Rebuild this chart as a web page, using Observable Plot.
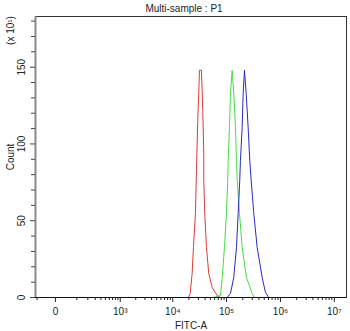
<!DOCTYPE html>
<html><head><meta charset="utf-8">
<script src="https://cdn.jsdelivr.net/npm/d3@7"></script>
<script src="https://cdn.jsdelivr.net/npm/@observablehq/plot@0.6"></script>
<style>body{margin:0;background:#fff}</style>
</head><body><div id="chart"></div>
<script>
const title = "Multi-sample : P1";
const xTitle = "FITC-A";
const yTitle = "Count";
const yUnit = "(x 10\u00B9)";

const xDomain = [-90, 1.68e7];
const yDomain = [0, 183];

const xMajor = [0, 1e3, 1e4, 1e5, 1e6, 1e7];
const xLabels = ["0", "10\u00B3", "10\u2074", "10\u2075", "10\u2076", "10\u2077"];
const xMinor = [-80, 100, 200, 300, 400, 500, 600, 700, 800, 900,
  2e3, 3e3, 4e3, 5e3, 6e3, 7e3, 8e3, 9e3,
  2e4, 3e4, 4e4, 5e4, 6e4, 7e4, 8e4, 9e4,
  2e5, 3e5, 4e5, 5e5, 6e5, 7e5, 8e5, 9e5,
  2e6, 3e6, 4e6, 5e6, 6e6, 7e6, 8e6, 9e6];
const yMajor = [0, 50, 100, 150];
const yMinor = [10, 20, 30, 40, 60, 70, 80, 90, 110, 120, 130, 140, 160, 170, 180];

const redX = [19600, 21070, 22950, 24260, 26430, 27580, 29180, 30460, 31390, 34180, 36160, 37730, 37730, 39380, 42360, 46740, 54040, 66930, 77050];
const redY = [0, 2.6, 15.6, 32.6, 54.8, 82.8, 115.4, 133, 148, 148, 121.9, 93.9, 76.3, 54.8, 32.6, 15.6, 6.5, 1.3, 0];

const greenX = [57090, 77050, 82880, 91450, 99630, 105300, 107100, 113200, 118200, 127000, 136100, 146300, 152700, 157400, 173700, 194900, 234200, 298600, 329600];
const greenY = [0, 1.3, 12.4, 32.6, 54.8, 76.3, 89.3, 110.8, 133, 148, 133, 110.8, 89.3, 76.3, 54.8, 32.6, 13, 2.6, 0];

const blueX = [102600, 118200, 136100, 152700, 164300, 175800, 181100, 194900, 203500, 215000, 231200, 251700, 269800, 286400, 319900, 369800, 458200, 527200, 606800];
const blueY = [0, 2.6, 13, 32.6, 54.8, 76.3, 89.3, 110.8, 133, 148, 133, 110.8, 89.3, 76.3, 54.8, 32.6, 13, 3.3, 0];

const seriesColors = {red: "#dd3b3b", green: "#46dc46", blue: "#2a2ac4"};

function rows(xs, ys) { return xs.map((x, i) => ({x, y: ys[i]})); }

const mid = {textAnchor: "middle", lineAnchor: "middle", fill: "#222"};

const chart = Plot.plot({
  width: 350, height: 331,
  marginTop: 16, marginRight: 4, marginBottom: 34, marginLeft: 35,
  style: {fontFamily: "'Liberation Sans', Arial, sans-serif", fontSize: "10px", color: "#222", background: "#fff"},
  x: {type: "symlog", constant: 67, domain: xDomain},
  y: {domain: yDomain},
  marks: [
    Plot.frame({stroke: "#333"}),
    Plot.line(rows(redX, redY), {x: "x", y: "y", stroke: seriesColors.red, strokeWidth: 1}),
    Plot.line(rows(greenX, greenY), {x: "x", y: "y", stroke: seriesColors.green, strokeWidth: 1}),
    Plot.line(rows(blueX, blueY), {x: "x", y: "y", stroke: seriesColors.blue, strokeWidth: 1}),
    Plot.ruleX(xDomain.slice(0, 1), {stroke: "#8a8a8a", strokeWidth: 2}),
    Plot.ruleY(yDomain.slice(0, 1), {stroke: "#111", strokeWidth: 1}),
    Plot.axisX({ticks: xMinor, tickSize: 3, tickFormat: () => "", label: null, stroke: "#222"}),
    Plot.axisX({ticks: xMajor, tickSize: 5, tickFormat: () => "", label: null, stroke: "#222"}),
    Plot.text(xMajor, {x: d => d, text: (d, i) => xLabels[i], frameAnchor: "bottom", dy: 14, ...mid}),
    Plot.axisY({ticks: yMinor, tickSize: 4, tickFormat: () => "", label: null, stroke: "#444"}),
    Plot.axisY({ticks: yMajor, tickSize: 5, tickFormat: () => "", label: null, stroke: "#444"}),
    Plot.text(yMajor, {y: d => d, text: d => String(d), frameAnchor: "left", dx: -14, rotate: -90, ...mid}),
    Plot.text([yTitle], {frameAnchor: "left", dx: -25, rotate: -90, ...mid}),
    Plot.text([yUnit], {frameAnchor: "top-left", dx: -25, dy: 14, rotate: -90, ...mid}),
    Plot.text([title], {frameAnchor: "top", dy: -8, dx: -7, ...mid}),
    Plot.text([xTitle], {frameAnchor: "bottom", dy: 28, ...mid})
  ]
});
document.getElementById("chart").append(chart);
</script></body></html>
